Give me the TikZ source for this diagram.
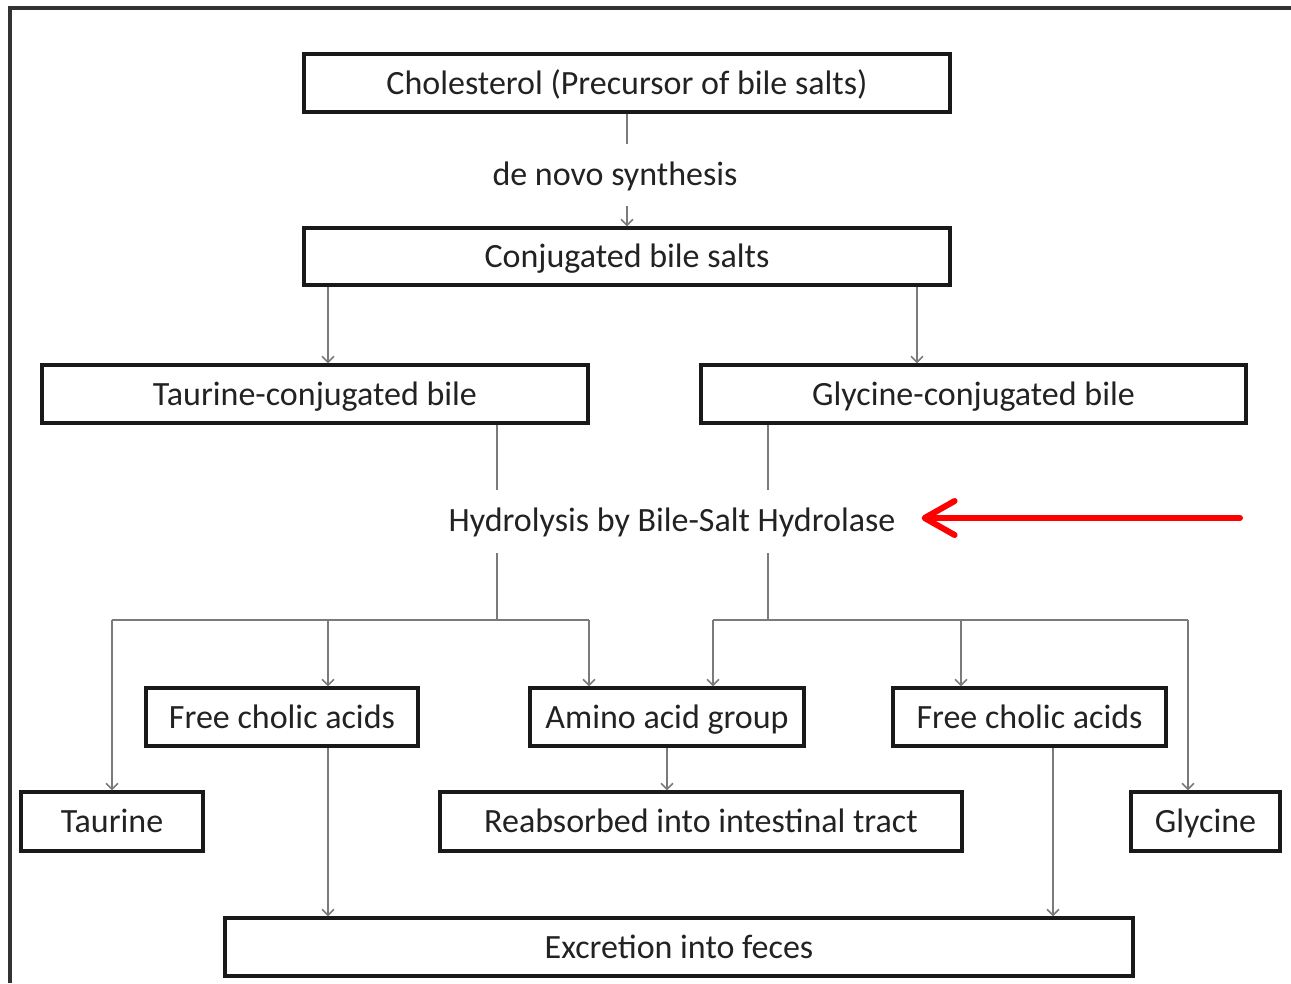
\documentclass[tikz,border=0pt]{standalone}
\usepackage{fontspec}
\setmainfont{Carlito}
\usetikzlibrary{arrows.meta}
\definecolor{txt}{HTML}{222222}
\definecolor{conn}{HTML}{7A7A7A}
\begin{document}
\begin{tikzpicture}[x=1pt,y=-1pt,
  box/.style={draw=black!90,line width=3.2pt,minimum width=#1,minimum height=58pt,inner sep=0pt,
              text height=27pt,text depth=5pt,
              font=\fontsize{34}{38}\selectfont,text=txt},
  lbl/.style={inner xsep=0pt,inner ysep=0pt,minimum height=#1,text height=26pt,text depth=6pt,
              font=\fontsize{34}{38}\selectfont,text=txt},
  line/.style={draw=conn,line width=1.6pt},
  arr/.style={line,-{Straight Barb[length=6pt,width=12pt]}},
  redarr/.style={draw=red,line width=6pt,line cap=round,-{Straight Barb[length=30pt,width=34pt,round]}},
  frame/.style={draw=black!80,line width=3.5pt}]
\useasboundingbox (0,0) rectangle (1291,983);
\draw[frame] (10,983) -- (10,8) -- (1291,8);

% boxes
\node[box=646pt] (chol) at (627,83) {Cholesterol (Precursor of bile salts)};
\node[lbl=62pt] (dn) at (615,175) {de novo synthesis};
\node[box=646pt,minimum height=57pt] (conj) at (627,256.5) {Conjugated bile salts};
\node[box=546pt] (tau) at (315,394) {Taurine-conjugated bile};
\node[box=545pt] (gly) at (973.5,394) {Glycine-conjugated bile};
\node[lbl=63pt] (hy) at (672,521.5) {Hydrolysis by Bile-Salt Hydrolase};
\node[box=272pt] (fca1) at (282,717) {Free cholic acids};
\node[box=274pt] (amino) at (667,717) {Amino acid group};
\node[box=273pt] (fca2) at (1029.5,717) {Free cholic acids};
\node[box=182pt,minimum height=59pt] (taurine) at (112,821.5) {Taurine};
\node[box=522pt,minimum height=59pt] (reab) at (701,821.5) {Reabsorbed into intestinal tract};
\node[box=149pt,minimum height=59pt] (glycine) at (1205.5,821.5) {Glycine};
\node[box=908pt] (excr) at (679,947) {Excretion into feces};

% helper coordinates
\coordinate (c328) at (328,0);
\coordinate (c917) at (917,0);
\coordinate (jL) at (497,620);
\coordinate (jR) at (768,620);
\coordinate (bL1) at (112,620);
\coordinate (bL2) at (328,620);
\coordinate (bL3) at (589,620);
\coordinate (bR1) at (713,620);
\coordinate (bR2) at (961,620);
\coordinate (bR3) at (1188,620);
\coordinate (c1053) at (1053,0);
\coordinate (rs) at (1240,518);

% connectors
\draw[line] (chol.south) -- (dn.north -| chol.south);
\draw[arr] (dn.south -| chol.south) -- (conj.north);
\draw[arr] (conj.south -| c328) -- (tau.north -| c328);
\draw[arr] (conj.south -| c917) -- (gly.north -| c917);
\draw[line] (tau.south -| jL) -- (hy.north -| jL);
\draw[line] (gly.south -| jR) -- (hy.north -| jR);
\draw[line] (hy.south -| jL) -- (jL);
\draw[line] (hy.south -| jR) -- (jR);
\draw[line] (bL1) -- (bL3);
\draw[line] (bR1) -- (bR3);
\draw[arr] (bL1) -- (taurine.north -| bL1);
\draw[arr] (bL2) -- (fca1.north -| bL2);
\draw[arr] (bL3) -- (amino.north -| bL3);
\draw[arr] (bR1) -- (amino.north -| bR1);
\draw[arr] (bR2) -- (fca2.north -| bR2);
\draw[arr] (bR3) -- (glycine.north -| bR3);
\draw[arr] (amino.south) -- (reab.north -| amino.south);
\draw[arr] (fca1.south -| c328) -- (excr.north -| c328);
\draw[arr] (fca2.south -| c1053) -- (excr.north -| c1053);
\draw[redarr] (rs) -- ([xshift=26pt]hy.east |- rs);
\end{tikzpicture}
\end{document}
